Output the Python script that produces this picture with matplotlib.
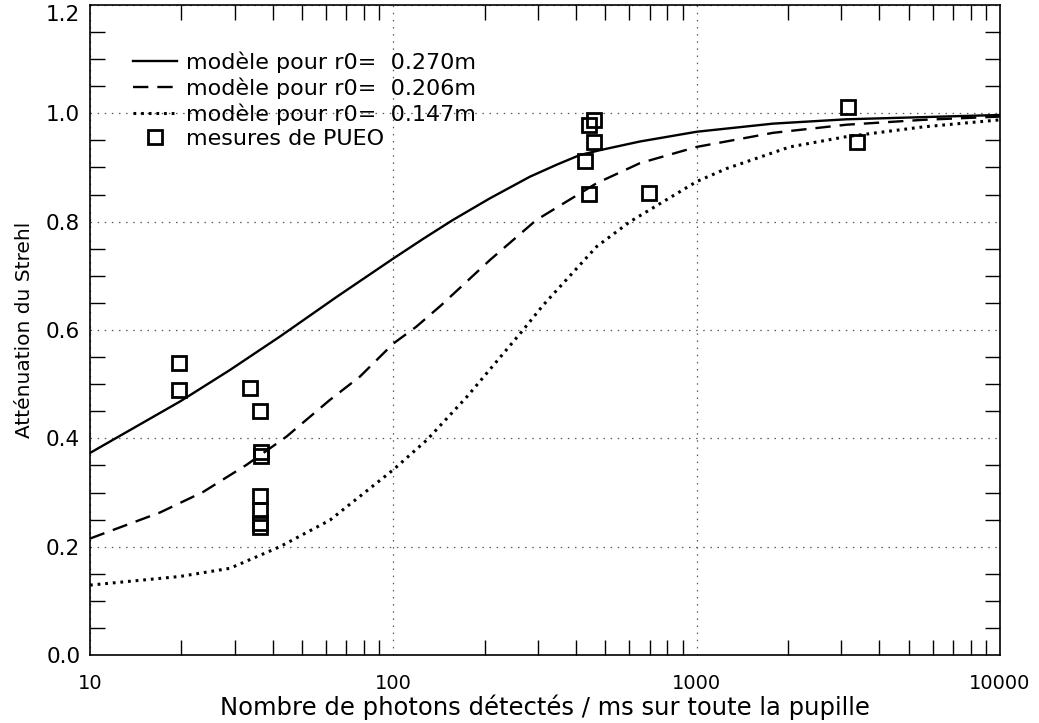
import numpy as np
import matplotlib
matplotlib.use("Agg")
from matplotlib import pyplot as plt
from matplotlib.ticker import FixedLocator, NullFormatter, FixedFormatter
from matplotlib.lines import Line2D

# modele r0 = 0.270m (solid)
solid_x = [10, 19.8, 28.9, 42.3, 65, 100, 126, 157, 208, 282, 345, 412, 480, 650, 1000, 1786, 3119, 10000]
solid_y = [0.373, 0.468, 0.526, 0.588, 0.661, 0.732, 0.769, 0.803, 0.843, 0.883, 0.905, 0.923, 0.932,
           0.948, 0.966, 0.981, 0.989, 0.997]

# modele r0 = 0.206m (dashed)
dash_x = [10, 17.0, 23.6, 32.8, 44.4, 61.8, 77.6, 100, 119, 144, 208, 296, 468, 650, 1000, 1786,
          3119, 5585, 10000]
dash_y = [0.215, 0.263, 0.301, 0.351, 0.403, 0.471, 0.514, 0.575, 0.606, 0.646, 0.729, 0.803, 0.871,
          0.908, 0.938, 0.964, 0.979, 0.988, 0.994]

# modele r0 = 0.147m (dotted)
dot_x = [10, 19.8, 28.9, 42.3, 61.8, 100, 129, 175, 265, 312, 468, 603, 1000, 1254, 2028, 3119,
         5585, 10000]
dot_y = [0.129, 0.145, 0.160, 0.200, 0.249, 0.342, 0.397, 0.477, 0.597, 0.646, 0.754, 0.800, 0.874,
         0.898, 0.938, 0.957, 0.975, 0.988]

# mesures de PUEO
meas_x = [19.6, 19.6, 33.7, 36.3, 36.5, 36.5, 36.3, 36.3, 36.3, 36.3,
          458, 443, 458, 429, 441, 697, 3155, 3365]
meas_y = [0.539, 0.489, 0.492, 0.450, 0.375, 0.367, 0.294, 0.268, 0.243, 0.237,
          0.988, 0.978, 0.948, 0.912, 0.851, 0.853, 1.012, 0.948]

labels = ["modèle pour r0=  0.270m", "modèle pour r0=  0.206m",
          "modèle pour r0=  0.147m", "mesures de PUEO"]

fig = plt.figure(figsize=(10.39, 7.23), dpi=100)
ax = fig.add_axes([90 / 1039, 68 / 723, 910 / 1039, 650 / 723])

lw = 1.7
dot_lw = 2.2
ax.plot(solid_x, solid_y, color="black", lw=lw)
ax.plot(dash_x, dash_y, color="black", lw=lw, dashes=[6.5, 3.8], dash_capstyle="butt")
ax.plot(dot_x, dot_y, color="black", lw=dot_lw, dashes=[0.9, 1.6])
ax.plot(meas_x, meas_y, "s", ms=10.5, mfc="none", mec="black", mew=2.0, ls="none")

ax.set_xscale("log")
ax.set_xlim(10, 10000)
ax.set_ylim(0, 1.2)

# grid = IDL style dotted full-length major ticks
ax.xaxis.set_major_locator(FixedLocator([10, 100, 1000, 10000]))
ax.xaxis.set_major_formatter(FixedFormatter(["10", "100", "1000", "10000"]))
minors_x = [m * d for d in [10, 100, 1000] for m in range(2, 10)]
ax.xaxis.set_minor_locator(FixedLocator(minors_x))
ax.xaxis.set_minor_formatter(NullFormatter())
ax.yaxis.set_major_locator(FixedLocator([0.0, 0.2, 0.4, 0.6, 0.8, 1.0, 1.2]))
ax.yaxis.set_major_formatter(FixedFormatter(["0.0", "0.2", "0.4", "0.6", "0.8", "1.0", "1.2"]))
minors_y = [v / 20 for v in range(25) if v % 4 != 0]
ax.yaxis.set_minor_locator(FixedLocator(minors_y))
ax.grid(True, which="major", color="0.35", lw=0.9, dashes=[1.2, 4.5])

ax.tick_params(which="major", length=0, direction="in", top=True, right=True)
ax.tick_params(which="minor", length=11, width=1.0, direction="in", top=True, right=True)
ax.tick_params(axis="x", which="major", pad=14, labelsize=14)
ax.tick_params(axis="y", which="major", pad=7, labelsize=15.5)

# top label sits below the spine so it stays inside the figure
ax.yaxis.get_major_ticks()[-1].label1.set_verticalalignment("top")

for s in ax.spines.values():
    s.set_linewidth(1.2)

ax.set_xlabel("Nombre de photons détectés / ms sur toute la pupille", fontsize=17.5, labelpad=1)
ax.set_ylabel("Atténuation du Strehl", fontsize=14.5, labelpad=9)

handles = [
    Line2D([], [], color="black", lw=lw),
    Line2D([], [], color="black", lw=lw, dashes=[6.5, 3.8]),
    Line2D([], [], color="black", lw=dot_lw, dashes=[0.9, 1.6]),
    Line2D([], [], marker="s", ms=10.5, mfc="none", mec="black", mew=2.0, ls="none"),
]
ax.legend(handles, labels, loc="upper left", bbox_to_anchor=(0.047, 0.929),
          frameon=False, fontsize=16, handlelength=2.0, handletextpad=0.4,
          labelspacing=0.2, numpoints=1, borderpad=0, borderaxespad=0)

fig.savefig("out.png", dpi=100)
